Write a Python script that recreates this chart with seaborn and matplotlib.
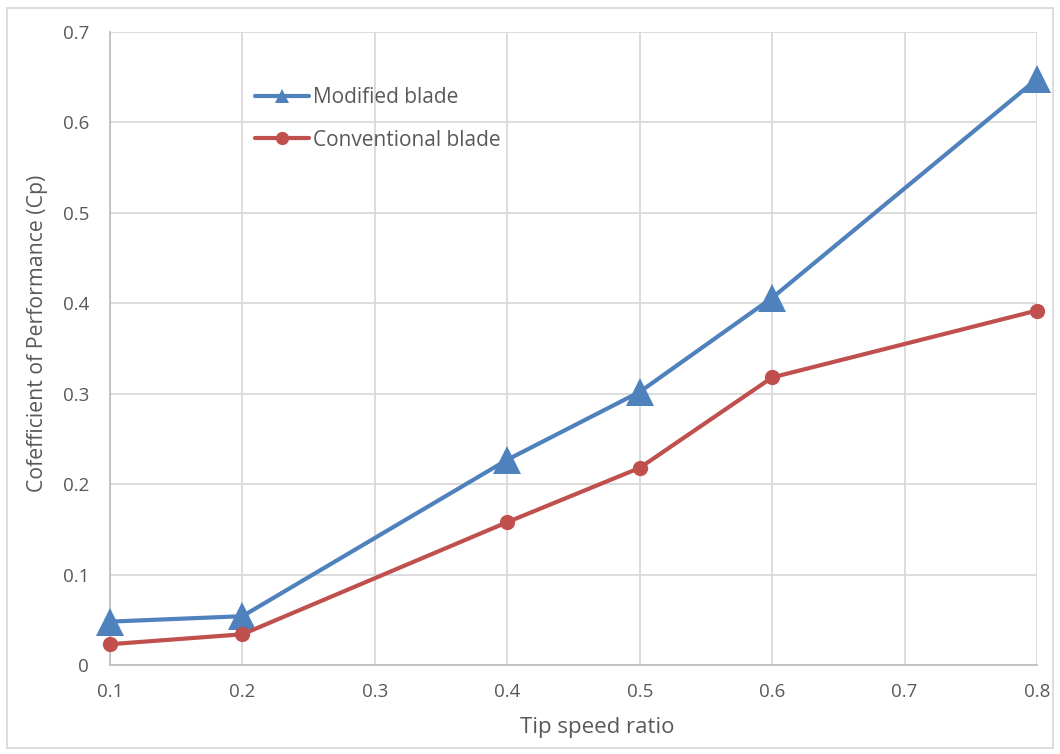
import matplotlib
matplotlib.use("Agg")
import matplotlib.pyplot as plt
import seaborn as sns
import pandas as pd
from matplotlib.lines import Line2D
from matplotlib.patches import Rectangle

# Performance data
tip_speed_ratio = [0.1, 0.2, 0.4, 0.5, 0.6, 0.8]
cp_modified = [0.048, 0.054, 0.227, 0.302, 0.406, 0.648]
cp_conventional = [0.023, 0.034, 0.158, 0.218, 0.318, 0.392]
series_names = ["Modified blade", "Conventional blade"]
x_ticks = [0.1, 0.2, 0.3, 0.4, 0.5, 0.6, 0.7, 0.8]
y_ticks = [0, 0.1, 0.2, 0.3, 0.4, 0.5, 0.6, 0.7]
y_tick_labels = ["0", "0.1", "0.2", "0.3", "0.4", "0.5", "0.6", "0.7"]

df = pd.DataFrame({
    "tsr": tip_speed_ratio * 2,
    "cp": cp_modified + cp_conventional,
    "blade": [series_names[0]] * len(tip_speed_ratio) + [series_names[1]] * len(tip_speed_ratio),
})

sns.set_theme(style="white")
plt.rcParams["font.family"] = ["Open Sans", "DejaVu Sans"]
text_color = "#595959"
grid_color = "#D9D9D9"

fig = plt.figure(figsize=(10.6, 7.54), dpi=100)
ax = fig.add_axes([0.1038, 0.118, 0.8745, 0.8396])

palette = {series_names[0]: "#4F81BD", series_names[1]: "#C0504D"}
markers = {series_names[0]: "^", series_names[1]: "o"}
sizes = {series_names[0]: 20, series_names[1]: 11}

for name in series_names:
    sub = df[df["blade"] == name]
    sns.lineplot(data=sub, x="tsr", y="cp", ax=ax, color=palette[name],
                 marker=markers[name], markersize=sizes[name],
                 markeredgewidth=0, linewidth=3, legend=False,
                 clip_on=False, zorder=3)

ax.set_xlim(0.1, 0.8)
ax.set_ylim(0, 0.7)
ax.set_xticks(x_ticks)
ax.set_xticklabels([f"{v:g}" for v in x_ticks])
ax.set_yticks(y_ticks)
ax.set_yticklabels(y_tick_labels)
ax.grid(True, color=grid_color, linewidth=1.3)
ax.set_axisbelow(True)
for side in ["top", "right"]:
    ax.spines[side].set_visible(False)
for side in ["left", "bottom"]:
    ax.spines[side].set_color("#BFBFBF")
    ax.spines[side].set_linewidth(1.3)
ax.tick_params(axis="both", length=0, labelsize=13.5, colors=text_color)
ax.tick_params(axis="y", pad=15)
ax.tick_params(axis="x", pad=13)

ax.set_xlabel("Tip speed ratio", fontsize=16, color=text_color, va="center")
ax.set_ylabel("Cofefficient of Performance (Cp)", fontsize=15.3, color=text_color, va="center")
ax.xaxis.set_label_coords(0.526, -0.098)
ax.yaxis.set_label_coords(-0.078, 0.524)

# Legend entries with smaller markers than the plotted points
handles = [Line2D([], [], color=palette[n], marker=markers[n], markersize=9.5,
                  markeredgewidth=0, linewidth=3) for n in series_names]
ax.legend(handles, series_names, loc="upper left", bbox_to_anchor=(0.136, 0.943),
          frameon=False, fontsize=15, handlelength=2.6, handletextpad=0.2,
          labelspacing=1.05, labelcolor=text_color)

# Light outer frame around the chart
fig.patches.append(Rectangle((0.0066, 0.008), 0.9868, 0.9814, transform=fig.transFigure,
                             fill=False, edgecolor="#D9D9D9", linewidth=1.3))

fig.savefig("out.png", dpi=100)
